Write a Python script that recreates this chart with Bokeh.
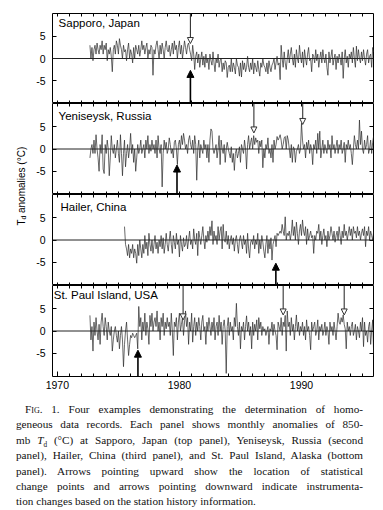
from math import pi
from bokeh.plotting import figure
from bokeh.layouts import column, row
from bokeh.models import Range1d, LinearAxis, FixedTicker, Span, Label, Arrow, NormalHead, Div
from bokeh.embed import file_html
from bokeh.resources import INLINE

# ---------------- data ----------------
stations = ["Sapporo, Japan", "Yeniseysk, Russia", "Hailer, China", "St. Paul Island, USA"]
start_years = [1972 + 8 / 12, 1972 + 8 / 12, 1975.5, 1972 + 8 / 12]

sapporo = [
    3.0, 0.0, 2.5, -0.5,
    2.0, 3.0, 1.0, 3.5, 2.0, 1.0, 3.0, 2.0, 4.0, 1.0, 3.0, 2.0,
    3.5, -0.5, 2.0, 1.0, 2.5, 0.5, -3.0, 2.0, 3.0, 1.0, 4.0, 3.0,
    1.0, 4.5, 3.0, 2.0, 0.0, 3.0, 1.5, 2.0, -0.5, 2.0, 3.5, 0.0,
    2.0, 1.0, -1.0, 2.5, 0.0, 3.0, 2.0, 1.0, 3.0, 0.5, 2.0, 4.0,
    2.0, 3.0, 1.0, 2.5, 3.5, 0.0, 2.0, 1.0, 3.0, 2.5, -3.8, 2.0,
    1.0, 3.0, 4.0, 2.0, 0.0, 3.0, 1.0, 3.5, 2.0, 0.0, 2.5, 4.0,
    2.0, 1.5, 3.0, 0.5, 2.0, 3.5, 1.0, 4.0, 2.0, 3.0, 0.0, 2.5,
    4.0, 1.0, 3.0, 0.0, 2.0, 4.0, 2.5, 1.0, 3.0, 3.5, 2.0, 1.0,
    -0.5, 3.0, 1.0, -2.5, 0.5, 1.5, -1.0, 1.0, -2.0, 0.0, 1.5, -1.5,
    0.5, -2.0, 1.0, -1.0, 0.0, -2.5, 1.0, -0.5, -1.5, 1.5, -1.0, -3.0,
    0.0, -1.0, 1.0, -2.0, -0.5, 0.0, -3.0, -1.0, -2.5, -0.5, -1.0, -4.3,
    -2.0, -1.5, -3.0, 0.0, -3.0, -1.0, -2.0, -3.5, 0.0, -1.5, -2.0, -4.0,
    -1.0, -4.2, -0.5, -2.5, -1.0, -3.0, -2.0, 0.5, -2.0, -3.0, -1.0, -2.5,
    0.0, -3.5, -1.0, -2.0, -3.0, -0.5, -2.5, -4.0, -1.0, -2.0, 0.0, -1.5,
    -2.0, -3.0, -1.0, -3.5, -0.5, -2.0, -3.0, -1.5, -1.0, 0.0, -2.5, -1.0,
    0.5, -1.5, -1.0, -4.8, 3.0, 0.0, -2.0, 1.5, -1.0, -2.5, 0.0, 2.0,
    -1.0, 1.0, 2.5, 0.0, -1.5, 1.0, -2.0, 2.0, 0.0, -1.0, 3.0, 0.5,
    -1.0, 1.5, -2.0, 2.0, 0.0, -1.5, 1.0, 2.5, -0.5, 0.0, -3.0, 1.0,
    0.5, -1.0, 2.0, -0.5, 1.0, -2.0, 0.0, 1.5, -1.0, 2.0, 0.0, -1.0,
    1.0, -2.0, -3.8, 1.5, -1.0, 0.5, 2.0, -1.5, 0.0, 1.0, -2.5, 0.5,
    -1.0, 1.0, 0.0, -1.5, 1.5, -4.5, 0.0, 2.0, -1.0, 0.5, -2.0, 1.0,
    0.0, 1.5, -1.0, 2.5, 0.0, -2.0, 2.8, -0.5, 2.0, 0.0, -1.0, 1.5,
    -0.5, 2.0, 0.0, -1.5, 1.0, 2.0, -1.0, 0.5, 1.0, -2.0, 2.5, 1.5,
    2.5,
]

yeniseysk = [
    -2.0, 0.0, 1.0, -1.0,
    2.0, -1.0, 3.2, 0.0, -2.0, -5.0, 1.0, -1.0, 3.2, -4.5, -5.5, 1.0,
    -1.0, 2.0, 0.0, -6.0, -2.0, 3.0, 0.0, -1.0, 1.0, -2.0, 0.0, 2.0,
    -1.0, -3.0, 3.2, -1.0, -6.0, -1.0, 2.0, -4.0, -1.0, 1.0, -2.0, 0.0,
    3.5, -1.0, 1.0, -3.0, 0.0, -5.0, -2.0, 1.0, -1.0, 0.0, 2.0, -1.0,
    0.0, 1.0, -2.0, 2.0, 0.0, 3.0, -1.0, 1.0, -0.5, 2.0, 0.0, 1.0,
    -1.0, 2.0, -2.0, 3.0, 0.0, -1.0, 1.0, -8.5, -1.0, 2.0, 0.0, 1.5,
    -1.0, 0.0, 2.5, 1.0, -1.0, 0.0, -2.0, 1.5, 2.0, 0.0, -3.5, 1.0,
    2.0, 0.0, 3.0, 1.0, 3.5, 2.0, 0.0, 1.0, -1.0, 2.0, 3.0, 1.0,
    0.0, 2.0, -1.0, 3.0, 1.0, -7.0, 0.0, 2.0, -2.0, 1.0, 0.0, -1.0,
    2.0, 0.0, 1.0, -2.0, 1.0, -3.0, 2.0, 4.5, 4.0, 0.0, -1.0, 0.0,
    1.0, -2.0, 0.0, 3.0, -3.5, 2.0, 0.0, -1.0, 1.0, -3.0, 0.0, 1.5,
    0.0, -1.0, -2.0, 0.5, -3.0, -1.0, -4.8, -1.0, 0.0, -2.0, -1.0, 0.5,
    -3.0, 1.0, 0.0, -1.0, 2.0, 0.0, -4.5, 1.0, 3.0, 0.0, 1.5, 2.5,
    0.0, 3.0, 1.0, 2.5, 1.5, 2.0, -1.0, 1.8, 0.5, 2.0, -4.2, 0.0,
    -2.0, 1.0, 0.0, 2.5, -1.0, 0.0, -2.0, 1.0, -3.0, 2.0, 0.0, 1.0,
    2.8, 2.0, 2.5, 3.2, 2.0, 0.0, 1.0, 2.5, 2.8, 0.0, 3.0, 2.0,
    0.0, -2.0, 1.0, -3.0, 0.5, 0.0, -3.0, -0.5, 0.0, 1.0, -1.0, 0.0,
    5.8, 2.0, 0.0, 1.0, -2.0, 1.5, 0.0, 2.0, -1.0, 1.0, 0.0, -3.5,
    1.0, 0.0, 2.0, -1.0, 3.5, 0.0, 4.0, -2.0, 0.0, 2.0, -1.0, 1.0,
    0.0, -1.0, 2.0, 0.0, 1.0, -2.0, 3.0, 0.0, 1.0, -1.0, 0.5, 2.0,
    -1.0, 1.0, 0.0, 2.0, -1.0, 0.0, 1.5, -3.0, 1.0, 0.0, 2.0, 0.0,
    1.0, -1.0, -3.5, 0.0, 3.0, 1.0, 0.0, 2.0, 0.0, 6.5, 1.0, 4.0,
    0.0, -1.0, 2.0, 0.0, 1.0, 3.0, -1.0, 0.0, 2.0, -1.0, 1.5, 3.0,
    3.0,
]

hailer = [
    3.0, -1.0, -2.0, -3.5, -1.0, -4.0,
    -2.0, -3.0, -1.0, -4.0, -2.0, -3.0, -5.2, -1.0, -3.5, 0.0, -2.0, -4.0,
    -1.0, -3.0, 1.0, -2.0, -0.5, -3.5, 1.5, -1.0, -2.5, 0.0, -3.0, -1.0,
    1.0, -2.0, -0.5, -3.0, 0.0, -1.5, 1.0, -2.0, 0.5, -3.0, -1.0, 1.5,
    -1.0, -2.5, 0.0, 2.0, -1.0, -3.0, 1.0, -0.5, -2.0, 1.5, -1.0, 0.0,
    -3.8, 1.0, -1.0, -2.5, 0.5, -1.5, -1.0, 1.0, -2.0, 0.0, 2.0, -1.0,
    0.0, -2.0, 2.5, 0.0, -1.0, 1.5, -3.5, 2.0, 0.5, -1.0, 1.0, 3.0,
    0.0, -2.0, 1.0, -0.5, 2.0, 0.0, 3.0, 1.0, 4.3, -1.0, 2.0, 0.0,
    1.0, -1.0, 3.0, 0.0, 2.0, 3.0, -2.0, 3.5, 0.0, -0.5, 2.0, -1.0,
    1.0, -2.0, 0.0, 1.0, -1.0, 0.5, -2.5, 0.0, 1.0, -1.0, -3.0, 0.0,
    1.0, -0.5, -2.0, 1.0, -1.0, 0.0, -3.0, 1.5, -2.0, -4.0, -0.5, 0.0,
    -1.0, 1.0, -2.0, 0.0, -1.0, 1.5, -3.0, 0.0, -2.0, 1.0, -0.5, -2.5,
    -4.0, -1.0, 1.0, -3.0, 0.0, -2.0, 0.5, -4.5, -1.0, 0.0, 1.0, -1.5,
    1.5, 1.0, 1.5, 2.0, 1.5, 3.5, 2.0, 1.0, 5.2, 0.0, 1.5, 1.0,
    2.0, 0.0, 1.5, 4.5, 1.0, 3.0, 0.0, 4.0, 1.5, -1.0, 2.0, 3.5,
    1.0, 4.5, 2.0, 1.0, 3.0, -1.0, 2.5, 0.0, 1.0, 2.0, 0.5, 1.0,
    -3.0, 1.0, 0.0, 2.0, 1.5, 3.5, 0.0, 2.0, -1.0, 1.0, 2.5, 0.0,
    1.0, -1.5, 2.0, 0.0, 1.0, 3.0, 1.5, 0.0, 2.0, -0.5, 1.0, 2.0,
    0.0, 3.0, 1.0, -1.0, 2.0, 0.5, 3.5, 1.0, 2.0, 0.0, 1.5, 3.0,
    1.0, 2.5, 0.0, 3.0, 1.5, 2.0, 0.5, 3.0, 1.0, 2.0, 0.0, 1.5,
    2.5, 1.0, 3.0, -1.5, 2.0, 1.0, 3.0, 0.0, 2.0, 1.0, 0.0, 2.0,
    3.0,
]

stpaul = [
    3.5, -2.0, 1.0, -4.5,
    2.0, -1.0, 3.0, 0.0, -2.0, 1.5, -3.0, 2.0, 4.0, 1.0, -1.0, 3.0,
    1.0, -2.0, 2.0, 0.0, -1.0, 1.0, -4.5, -2.0, 0.0, 1.0, -1.0, -2.5,
    0.0, -4.0, -1.0, 1.0, -2.0, -8.0, -3.0, 0.0, 2.0, -2.0, -5.5, -3.0,
    -1.0, -1.5, -0.5, -1.0, -1.5, -1.0, -0.5, -4.0, 5.5, 1.0, 3.0, -2.0,
    2.0, 0.0, 4.0, -1.0, 2.0, 0.5, -3.0, 3.5, 1.0, 4.0, 0.0, 2.0,
    3.0, 1.0, 4.5, 0.0, 2.0, -2.0, 3.0, 1.0, 4.0, -1.0, 2.0, 0.5,
    3.0, 1.0, 2.0, -1.0, 4.0, 0.0, -5.5, 2.0, 1.0, 3.0, -2.0, 2.0,
    4.0, 0.0, 1.5, 3.0, -1.0, 2.0, 4.5, 1.0, 3.0, -3.0, 2.0, 0.0,
    4.0, -2.5, 1.0, 3.0, -1.0, 2.0, 0.0, 3.0, 1.0, -2.0, 2.0, 3.5,
    0.0, 1.0, -3.0, 2.0, 0.0, 3.0, 1.0, -1.0, 2.0, 0.0, 3.0, -2.0,
    1.0, 2.0, -1.0, 3.5, 0.0, 2.0, -3.0, 1.0, 2.5, 0.0, -9.5, 1.0,
    3.0, -1.0, 2.0, 0.0, 1.0, -2.0, 3.0, 1.0, 6.2, 1.0, -1.0, 2.0,
    -4.0, 1.0, 0.0, 2.0, -2.0, 1.0, 3.4, 0.0, 2.0, -1.0, 1.0, -4.0,
    2.0, -1.0, 1.5, 0.0, 2.5, -2.0, 3.0, 0.5, 2.0, -1.0, 1.0, 0.0,
    0.5, -1.0, 0.0, 1.0, -3.0, 0.5, 0.0, 2.0, -1.0, 1.5, 0.0, -1.0,
    -4.2, 2.0, 1.0, 0.0, 3.0, -1.0, 2.0, 1.0, 3.5, -4.5, 4.5, 1.0,
    2.0, -1.0, 3.0, 0.0, 1.5, -2.0, 1.0, 3.6, 0.0, 2.0, -1.0, 1.0,
    0.0, 2.0, -1.0, 1.0, -2.0, 2.5, 0.0, 1.0, -1.0, -4.2, 2.0, 0.0,
    1.0, 2.0, -1.0, 0.0, 2.5, -2.0, 1.0, 0.0, 1.5, -1.0, 0.0, 2.0,
    -1.0, 1.0, 0.0, -3.0, 2.0, 0.0, 1.0, -1.0, 2.0, 0.0, -2.0, 1.0,
    4.0, 2.0, 1.5, 3.0, 2.0, 3.6, 1.5, 0.5, -4.0, 2.0, 0.0, 1.0,
    -1.0, 1.0, 2.0, -1.0, 0.0, 1.5, -2.0, 1.0, 0.0, -1.5, 2.0, 0.0,
    3.0, -3.5, 2.0, -1.0, 0.0, -2.5, 1.0, 2.0, -3.0, 0.0, 2.5, -5.5,
    2.5,
]

# change points (arrows pointing upward) and instrument changes (downward)
up_years = [[1980.9], [1979.8], [1987.9], [1976.6]]
up_tips = [[-2.7], [-3.6], [-5.2], [-4.3]]
down_years = [[1980.9], [1986.1, 1990.1], [], [1980.3, 1988.5, 1993.5]]
down_tips = [[3.4], [3.6, 5.5], [], [2.5, 3.6, 3.6]]

x_ticks = [1970, 1980, 1990]
x_tick_labels = ["1970", "1980", "1990"]
x_minor_ticks = list(range(1970, 1996))
y_ticks = [-5, 0, 5]
y_tick_labels = ["-5", "0", "5"]

caption_lines = [
    '<span style="font-variant:small-caps">Fig.</span> 1. Four examples demonstrating the determination of homo-',
    'geneous data records. Each panel shows monthly anomalies of 850-',
    'mb <i>T</i><sub style="font-size:65%;line-height:0">d</sub> (°C) at Sapporo, Japan (top panel), Yeniseysk, Russia (second',
    'panel), Hailer, China (third panel), and St. Paul Island, Alaska (bottom',
    'panel). Arrows pointing upward show the location of statistical',
    'change points and arrows pointing downward indicate instrumenta-',
    'tion changes based on the station history information.',
]

# ---------------- drawing ----------------
FONT = "Liberation Sans"
X0, X1 = 1969.6, 1995.9
Y0, Y1 = -10.2, 10.2
series = [sapporo, yeniseysk, hailer, stpaul]
name_x = [1970.1, 1970.1, 1970.25, 1969.7]
name_y = [8.0, 7.5, 7.3, 8.0]


def x_axis(labels):
    if labels:
        ax = LinearAxis(ticker=FixedTicker(ticks=x_ticks, minor_ticks=x_minor_ticks),
                        major_label_overrides={t: l for t, l in zip(x_ticks, x_tick_labels)},
                        major_label_text_font=FONT, major_label_text_font_size="10.5px",
                        major_label_text_color="black", major_label_standoff=4)
    else:
        # tick marks only: every year as a minor tick, no labelled major ticks
        ax = LinearAxis(ticker=FixedTicker(ticks=[], minor_ticks=x_minor_ticks),
                        major_label_standoff=0)
    ax.axis_line_color = None
    ax.major_tick_in = 5
    ax.major_tick_out = 0
    ax.minor_tick_in = 3
    ax.minor_tick_out = 0
    ax.major_tick_line_color = "black"
    ax.minor_tick_line_color = "black"
    return ax


def y_axis(labels):
    if labels:
        ax = LinearAxis(ticker=FixedTicker(ticks=y_ticks, minor_ticks=[]),
                        major_label_overrides={t: l for t, l in zip(y_ticks, y_tick_labels)},
                        major_label_text_font=FONT, major_label_text_font_size="10.5px",
                        major_label_text_color="black", major_label_standoff=7,
                        major_tick_in=4, minor_tick_in=0)
    else:
        ax = LinearAxis(ticker=FixedTicker(ticks=[], minor_ticks=y_ticks),
                        major_label_standoff=0, major_tick_in=0, minor_tick_in=4)
    ax.axis_line_color = None
    ax.major_tick_out = 0
    ax.minor_tick_out = 0
    ax.major_tick_line_color = "black"
    ax.minor_tick_line_color = "black"
    return ax


panels = []
for i in range(4):
    top = 13 if i == 0 else 0
    bottom = 17 if i == 3 else 0
    fh = 90 if i == 0 else 91
    p = figure(width=24 + 321 + 10, height=top + fh + bottom,
               x_range=Range1d(X0, X1), y_range=Range1d(Y0, Y1),
               output_backend="svg", toolbar_location=None,
               x_axis_type=None, y_axis_type=None,
               min_border_left=24, min_border_right=10,
               min_border_top=top, min_border_bottom=bottom,
               outline_line_color="black", outline_line_width=1,
               background_fill_color="white", border_fill_color="white")
    p.add_layout(x_axis(i == 3), "below")
    p.add_layout(x_axis(False), "above")
    p.add_layout(y_axis(True), "left")
    p.add_layout(y_axis(False), "right")

    p.add_layout(Span(location=0, dimension="width", line_color="#222222", line_width=1))

    vals = series[i]
    xs = [start_years[i] + k / 12 for k in range(len(vals))]
    p.line(xs, vals, line_color="#2a2a2a", line_width=0.7)

    for xa, ya in zip(up_years[i], up_tips[i]):
        p.add_layout(Arrow(end=NormalHead(size=7, fill_color="black", line_color="black", line_width=1),
                           x_start=xa, y_start=Y0, x_end=xa, y_end=ya,
                           line_color="black", line_width=1.6))
    for xa, ya in zip(down_years[i], down_tips[i]):
        p.add_layout(Arrow(end=NormalHead(size=6, fill_color="white", line_color="#333333", line_width=1),
                           x_start=xa, y_start=Y1, x_end=xa, y_end=ya,
                           line_color="#333333", line_width=1.1))

    p.add_layout(Label(x=name_x[i], y=name_y[i], text=stations[i], text_font=FONT,
                       text_font_size="11.5px", text_color="black",
                       text_align="left", text_baseline="middle"))
    panels.append(p)

COL_H = 103 + 91 + 91 + 108

# y-axis title in a narrow strip at the left
lab = figure(width=28, height=COL_H, x_range=Range1d(0, 28), y_range=Range1d(0, COL_H),
             output_backend="svg", toolbar_location=None, min_border=0,
             x_axis_type=None, y_axis_type=None, outline_line_color=None)
lab.add_layout(Label(x=20.5, y=168, text="T", angle=pi / 2, text_font=FONT, text_font_size="10px",
                     text_align="left", text_baseline="middle", text_color="black"))
lab.add_layout(Label(x=23.0, y=174.1, text="d", angle=pi / 2, text_font=FONT, text_font_size="7px",
                     text_align="left", text_baseline="middle", text_color="black"))
lab.add_layout(Label(x=20.5, y=180.5, text="anomalies (°C)", angle=pi / 2, text_font=FONT,
                     text_font_size="10px", text_align="left", text_baseline="middle",
                     text_color="black"))

rows_html = []
for k, ln in enumerate(caption_lines):
    last = k == len(caption_lines) - 1
    style = "white-space:nowrap;"
    style += "text-align:left;" if last else "text-align:justify;text-align-last:justify;"
    if k == 0:
        style += "padding-left:9px;"
    rows_html.append('<div style="%s">%s</div>' % (style, ln))
cap_html = ('<div style="font-family:\'Liberation Serif\';font-size:11.2px;line-height:15.4px;'
            'color:#111;width:347px;">' + "".join(rows_html) + "</div>")
caption = Div(text=cap_html, width=347, height=108, margin=(9, 0, 0, 16))

layout = column(row(lab, column(*panels, spacing=0), spacing=0), caption, spacing=0)

open("out.html", "w").write(file_html(layout, INLINE))
